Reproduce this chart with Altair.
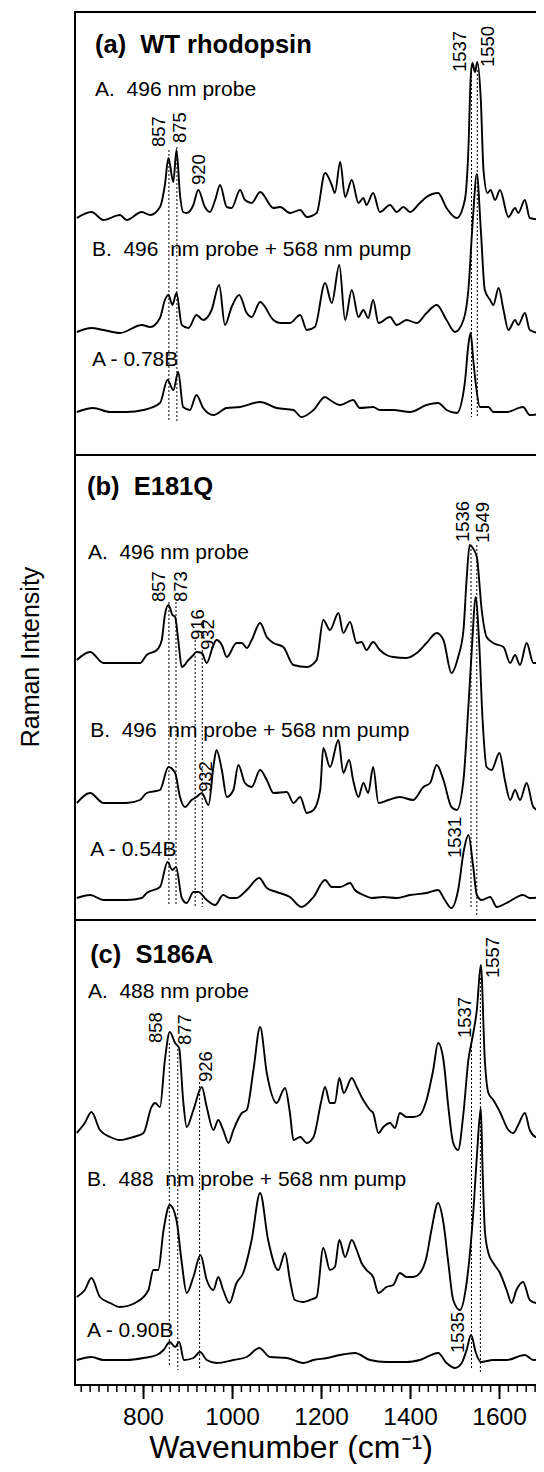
import sys
import altair as alt
import pandas as pd

# ------------------------------------------------------------------
# Raman spectra (wavenumber in cm-1, intensity in arbitrary units
# measured from each trace's own baseline)
# ------------------------------------------------------------------
# (a) WT rhodopsin
aA_wn = [650,683,710,747,762,796,815,837,848,856,867,874,882,889,897,912,923,938,949,961,
         972,987,998,1017,1028,1043,1062,1092,1107,1129,1152,1167,1189,1208,1223,1230,1242,1253,1268,1283,
         1294,1301,1316,1331,1354,1369,1384,1399,1421,1436,1462,1481,1504,1522,1530,1535,1539,1545,1550,1558,
         1564,1573,1580,1590,1601,1620,1635,1642,1657,1668,1700]
aA_int = [2,8,0,5,0,8,5,13,35,62,38,70,25,8,7,15,30,13,8,20,
          35,13,12,30,20,17,28,12,13,7,10,3,7,47,35,27,58,23,40,17,
          22,15,27,8,15,8,13,8,17,23,27,12,2,20,70,140,157,148,158,120,
          50,27,30,20,30,3,12,7,20,2,0]

aB_wn = [650,683,710,747,796,815,837,848,856,865,874,886,901,919,934,953,970,983,998,1015,
         1032,1043,1062,1092,1107,1129,1152,1167,1185,1208,1223,1240,1253,1268,1283,1294,1305,1316,1328,1354,
         1369,1391,1414,1436,1459,1481,1500,1519,1530,1540,1549,1558,1567,1579,1586,1598,1609,1620,1635,1642,
         1657,1668,1700]
aB_int = [2,6,4,1,9,7,16,34,39,29,41,9,6,19,14,24,49,9,27,39,
          21,17,32,14,11,11,19,4,7,51,31,69,14,44,17,24,16,34,11,17,
          9,14,11,21,29,14,2,14,44,114,160,104,44,34,29,46,24,4,14,9,
          21,4,0]

aD_wn = [650,687,725,762,800,837,854,867,878,889,904,919,934,957,987,1017,1062,1099,1137,1155,
         1182,1208,1219,1242,1271,1286,1316,1331,1361,1399,1436,1462,1481,1504,1522,1530,1535,1541,1547,1556,
         1575,1586,1616,1653,1668,1700]
aD_int = [3,7,3,3,5,12,35,25,43,8,5,20,7,0,7,8,13,7,5,-2,
          5,18,15,10,15,7,8,5,5,3,10,12,5,2,32,70,82,55,30,8,
          8,3,3,8,0,2]

# (b) E181Q
bA_wn = [650,680,710,762,792,807,830,841,848,856,865,871,878,886,901,912,919,931,942,957,
         964,976,987,1009,1021,1032,1043,1062,1077,1092,1114,1137,1167,1189,1204,1219,1238,1249,1264,1279,
         1290,1301,1316,1331,1346,1361,1391,1414,1436,1459,1474,1492,1507,1519,1526,1533,1540,1549,1560,1571,
         1586,1609,1624,1635,1646,1661,1676,1700]
bA_int = [8,16,5,5,5,13,18,28,53,63,53,51,28,1,8,13,16,15,5,23,
          28,23,11,25,25,20,28,45,31,25,21,3,1,8,48,38,55,35,46,25,
          26,18,26,18,13,11,10,15,25,35,28,-5,11,38,88,123,120,111,58,31,
          25,21,5,13,3,25,5,5]

bB_wn = [650,680,710,762,792,807,837,856,871,882,893,908,919,931,946,957,964,976,987,1002,
         1013,1028,1043,1062,1077,1092,1122,1137,1152,1167,1182,1197,1204,1219,1238,1249,1262,1271,1283,1294,
         1305,1316,1328,1350,1376,1406,1429,1444,1459,1474,1492,1504,1519,1530,1539,1546,1554,1562,1571,1582,
         1600,1612,1624,1635,1646,1661,1676,1700]
bB_int = [7,17,7,7,10,17,20,43,37,13,3,10,13,17,5,43,60,40,13,20,
          45,27,23,40,30,17,18,7,13,-3,0,20,62,43,70,37,50,30,13,27,
          17,43,7,10,13,10,23,27,45,30,3,0,30,103,170,213,170,90,43,40,
          57,30,10,20,10,27,3,-3]

bD_wn = [650,680,710,762,796,807,837,854,865,873,886,897,912,923,942,961,979,994,1009,1032,
         1060,1077,1099,1129,1155,1182,1208,1223,1242,1264,1275,1294,1313,1339,1369,1399,1436,1462,1477,1492,
         1507,1520,1530,1541,1549,1560,1579,1594,1616,1653,1668,1700]
bD_int = [2,5,0,0,2,7,13,38,30,33,2,-3,8,8,0,-5,5,2,2,10,
          22,12,8,3,-7,3,20,13,13,17,10,5,2,3,2,5,7,10,0,-8,
          10,50,65,33,5,0,3,-7,-3,5,2,3]

# (c) S186A
cA_wn = [650,668,683,702,725,747,777,800,818,826,837,848,859,871,880,889,897,912,931,942,
         957,968,979,991,1002,1021,1032,1047,1062,1077,1099,1114,1118,1129,1137,1152,1167,1182,1200,1208,
         1219,1230,1240,1250,1268,1279,1290,1298,1309,1316,1328,1339,1354,1365,1376,1391,1406,1421,1436,1451,
         1462,1474,1485,1496,1507,1519,1530,1539,1549,1558,1567,1575,1586,1601,1620,1631,1642,1657,1668,1683,
         1698]
cA_int = [10,20,31,13,6,3,6,10,36,40,36,83,111,100,95,43,16,33,56,36,
          13,23,13,0,13,30,33,73,116,70,40,53,55,30,3,6,0,6,43,56,
          40,40,65,50,65,56,46,40,33,30,10,16,20,15,30,26,26,28,43,73,
          100,83,36,0,-7,30,83,105,133,178,83,50,43,31,13,10,18,30,13,6,
          15]

cB_wn = [650,668,683,702,725,747,785,811,822,833,845,859,874,886,897,912,928,942,957,968,
         979,993,1009,1024,1043,1062,1080,1103,1118,1129,1140,1159,1174,1189,1204,1219,1230,1240,1253,1268,
         1279,1290,1301,1316,1328,1346,1361,1376,1391,1406,1421,1436,1447,1462,1474,1485,1496,1511,1526,1541,
         1550,1558,1562,1567,1575,1586,1601,1616,1627,1638,1653,1668,1683,1698]
cB_int = [11,18,30,11,5,1,6,18,38,38,78,103,88,45,15,31,53,28,18,31,
          18,5,25,35,68,115,68,38,55,28,8,6,8,11,60,38,41,68,51,68,
          58,45,38,31,15,21,23,35,31,31,35,51,78,105,85,45,8,-2,25,95,
          158,200,138,78,55,45,35,18,5,18,26,8,5,8]

cD_wn = [650,683,710,762,800,830,845,859,871,880,891,912,927,942,964,1002,1032,1060,1084,1122,
         1159,1182,1212,1242,1275,1309,1346,1391,1421,1462,1481,1500,1515,1526,1536,1547,1558,1586,1616,1657,
         1676,1700]
cD_int = [5,8,5,5,7,10,15,23,18,23,5,7,13,5,2,5,8,17,8,7,
          2,5,7,10,12,5,3,3,5,12,2,-3,2,15,30,12,3,5,5,10,
          5,7]

trace_names = ["aA", "aB", "aD", "bA", "bB", "bD", "cA", "cB", "cD"]
trace_wn = [aA_wn, aB_wn, aD_wn, bA_wn, bB_wn, bD_wn, cA_wn, cB_wn, cD_wn]
trace_int = [aA_int, aB_int, aD_int, bA_int, bB_int, bD_int, cA_int, cB_int, cD_int]
# vertical stacking offset of each trace
trace_offset = [1165, 1051, 970, 717, 575, 485, 242, 77, 20]

# panel titles
title_text = ["(a)\u00a0 WT rhodopsin", "(b)\u00a0 E181Q", "(c)\u00a0 S186A"]
title_wn = [691, 673, 680]
title_y = [1340, 898, 430]

# spectrum labels
lab_text = ["A.\u00a0 496 nm probe", "B.\u00a0 496\u00a0 nm probe + 568 nm pump", "A - 0.78B",
            "A.\u00a0 496 nm probe", "B.\u00a0 496\u00a0 nm probe + 568 nm pump", "A - 0.54B",
            "A.\u00a0 488 nm probe", "B.\u00a0 488\u00a0 nm probe + 568 nm pump", "A - 0.90B"]
lab_wn = [691, 684, 684, 675, 680, 680, 675, 673, 673]
lab_y = [1295, 1135, 1025, 832, 654, 535, 393, 205, 54]

# peak labels (rotated)
peak_text = ["857", "875", "920", "1537", "1550",
             "857", "873", "916", "932", "1536", "1549", "932", "1531",
             "858", "877", "926", "1537", "1557", "1535"]
peak_wn = [835, 882, 925, 1511, 1574,
           835, 884, 922, 945, 1518, 1563, 940, 1500,
           828, 893, 940, 1522, 1585, 1507]
peak_y = [1238, 1242, 1200, 1313, 1318,
          783, 783, 745, 735, 843, 842, 593, 527,
          342, 340, 303, 347, 407, 32]

# dotted marker lines
dot_wn = [857, 875, 1537, 1550,
          857, 873, 916, 932, 1536, 1549,
          858, 877, 926, 1537, 1557]
dot_top = [1235, 1238, 1313, 1315,
           783, 783, 745, 735, 840, 840,
           342, 340, 303, 347, 407]
dot_bot = [965, 962, 968, 968,
           480, 480, 478, 478, 478, 468,
           18, 15, 17, 15, 13]

# panel separators / top frame
sep_y = [1373, 930, 465]

# axis ticks
major_ticks = [800, 1000, 1200, 1400, 1600]
minor_ticks = list(range(660, 1681, 20))

# ------------------------------------------------------------------
rows = []
for name, wn, inten, off in zip(trace_names, trace_wn, trace_int, trace_offset):
    if len(wn) != len(inten):
        print(f"length mismatch in {name}: {len(wn)} vs {len(inten)}", file=sys.stderr)
    for w, v in zip(wn, inten):
        rows.append({"trace": name, "wn": w, "val": v + off})
spec_df = pd.DataFrame(rows)

W, H = 461, 1373
FONT = "Liberation Sans"
xs = alt.Scale(domain=[646, 1682], nice=False, zero=False)
ys = alt.Scale(domain=[0, 1373], nice=False, zero=False)
X = alt.X("wn:Q", scale=xs, axis=None)
Y = alt.Y("val:Q", scale=ys, axis=None)

spectra = alt.Chart(spec_df).mark_line(
    color="black", strokeWidth=1.9, strokeJoin="round", interpolate="monotone", clip=True
).encode(x=X, y=Y, detail="trace:N")

dots = alt.Chart(pd.DataFrame({"wn": dot_wn, "top": dot_top, "bot": dot_bot})).mark_rule(
    color="black", strokeWidth=1, strokeDash=[2, 2]
).encode(x=X, y=alt.Y("top:Q", scale=ys, axis=None), y2="bot:Q")

seps = alt.Chart(pd.DataFrame({"val": sep_y})).mark_rule(
    color="black", strokeWidth=2
).encode(y=Y, x=alt.value(0), x2=alt.value(W))

# axis lines, ticks and labels
frame_df = pd.DataFrame({"k": [0]})
left_line = alt.Chart(frame_df).mark_rule(color="black", strokeWidth=2).encode(
    x=alt.value(0), y=alt.value(-1), y2=alt.value(H + 1))
bottom_line = alt.Chart(frame_df).mark_rule(color="black", strokeWidth=2).encode(
    y=alt.value(H), x=alt.value(0), x2=alt.value(W))

minor = alt.Chart(pd.DataFrame({"wn": minor_ticks})).mark_rule(
    color="black", strokeWidth=1.5
).encode(x=X, y=alt.value(H), y2=alt.value(H + 7))

major = alt.Chart(pd.DataFrame({"wn": major_ticks})).mark_rule(
    color="black", strokeWidth=2
).encode(x=X, y=alt.value(H), y2=alt.value(H + 14))

tick_labels = alt.Chart(pd.DataFrame({"wn": major_ticks})).mark_text(
    align="center", baseline="top", font=FONT, fontSize=24.5, color="black"
).encode(x=X, y=alt.value(H + 21), text=alt.Text("wn:Q", format="d"))

x_title = alt.Chart(pd.DataFrame({"text": ["Wavenumber (cm\u207b\u00b9)"]})).mark_text(
    align="center", baseline="alphabetic", font=FONT, fontSize=32, color="black"
).encode(x=alt.value(216), y=alt.value(H + 73), text="text:N")

y_title = alt.Chart(pd.DataFrame({"text": ["Raman Intensity"]})).mark_text(
    align="center", baseline="middle", angle=270, font=FONT, fontSize=25, color="black"
).encode(x=alt.value(-44), y=alt.value(645), text="text:N")

titles = alt.Chart(pd.DataFrame({"wn": title_wn, "val": title_y, "text": title_text})).mark_text(
    align="left", baseline="middle", font=FONT, fontSize=25.5, fontWeight="bold", color="black"
).encode(x=X, y=Y, text="text:N")

labels = alt.Chart(pd.DataFrame({"wn": lab_wn, "val": lab_y, "text": lab_text})).mark_text(
    align="left", baseline="middle", font=FONT, fontSize=21, color="black"
).encode(x=X, y=Y, text="text:N")

peaks = alt.Chart(pd.DataFrame({"wn": peak_wn, "val": peak_y, "text": peak_text})).mark_text(
    align="left", baseline="middle", angle=270, font=FONT, fontSize=18.5, color="black"
).encode(x=X, y=Y, text="text:N")

# svg is 528 px wide (fits the page body) and 1456 px tall (fits the window)
chart = alt.layer(
    spectra, dots, seps, left_line, bottom_line, minor, major, tick_labels,
    x_title, y_title, titles, labels, peaks
).properties(
    width=W, height=H,
    padding={"left": 67, "top": 4, "right": 0, "bottom": 79},
    autosize=alt.AutoSizeParams(type="none"),
    background="white",
).configure_view(strokeWidth=0)

chart.save("out.html", embed_options={"renderer": "svg", "actions": False})
